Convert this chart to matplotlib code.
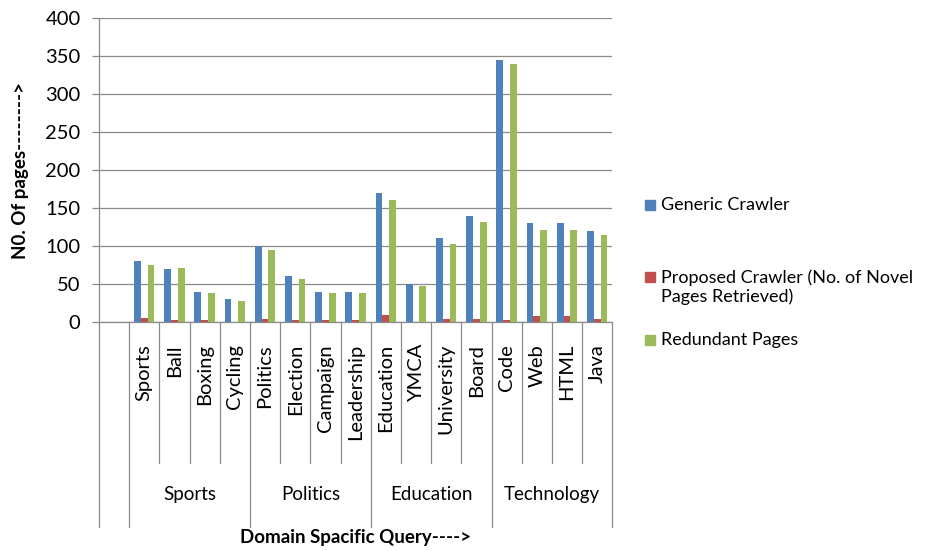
import matplotlib.pyplot as plt
from matplotlib.patches import Rectangle
import numpy as np

plt.rcParams['font.family'] = ['Lato', 'DejaVu Sans']

queries = ['Sports', 'Ball', 'Boxing', 'Cycling',
           'Politics', 'Election', 'Campaign', 'Leadership',
           'Education', 'YMCA', 'University', 'Board',
           'Code', 'Web', 'HTML', 'Java']
domains = ['Sports', 'Politics', 'Education', 'Technology']
generic = [80, 70, 40, 30, 100, 60, 40, 40, 170, 50, 110, 140, 345, 130, 130, 120]
proposed = [5, 2, 2, 0, 4, 2, 2, 2, 9, 0, 4, 4, 3, 8, 8, 4]
redundant = [75, 71, 38, 28, 95, 56, 38, 38, 161, 47, 103, 131, 340, 121, 121, 114]
series_names = ['Generic Crawler',
                'Proposed Crawler (No. of Novel\nPages Retrieved)',
                'Redundant Pages']
colors = ['#4F81BD', '#C0504D', '#9BBB59']
grid = '#8a8a8a'

fig = plt.figure(figsize=(9.41, 5.51), dpi=100)
ax = fig.add_axes([0.1052, 0.4156, 0.5455, 0.5517])

# slot 0 is left empty, like the blank first row of the original sheet
x = np.arange(1, len(queries) + 1)
w = 0.225
for k, vals in enumerate([generic, proposed, redundant]):
    ax.bar(x + (k - 1) * w, vals, w, color=colors[k], zorder=3)

ax.set_xlim(-0.5, len(queries) + 0.5)
ax.set_ylim(0, 400)
ax.set_yticks(np.arange(0, 401, 50))
ax.yaxis.grid(True, color=grid, lw=0.9)
ax.set_axisbelow(True)
ax.tick_params(axis='y', length=5.3, width=0.9, color=grid, pad=8, labelsize=14.5)
ax.set_xticks([])
for s in ['top', 'right']:
    ax.spines[s].set_visible(False)
for s in ['left', 'bottom']:
    ax.spines[s].set_color(grid)
    ax.spines[s].set_linewidth(0.9)

# two level category axis
trans = ax.get_xaxis_transform()
per = len(queries) // len(domains)
long_lines = np.concatenate([[-0.5], np.arange(0, len(queries) + 1, per) + 0.5])
short_lines = [e for e in np.arange(1.5, len(queries)) if e not in long_lines]
for xv in long_lines:
    ax.plot([xv, xv], [0, -0.674], transform=trans, color=grid, lw=0.9, clip_on=False)
for xv in short_lines:
    ax.plot([xv, xv], [0, -0.464], transform=trans, color=grid, lw=0.9, clip_on=False)

for xi, q in zip(x, queries):
    ax.text(xi, -0.072, q, rotation=90, ha='center', va='top',
            transform=trans, fontsize=14.5)
for i, d in enumerate(domains):
    ax.text(i * per + (per + 1) / 2, -0.566, d, ha='center', va='center',
            transform=trans, fontsize=13.5)

ax.text(0.5, -0.71, 'Domain Spacific Query---->', ha='center', va='center',
        transform=ax.transAxes, fontsize=13.5, weight='bold')
ax.text(-0.152, 0.5, 'N0. Of pages-------->', rotation=90, ha='center',
        va='center', transform=ax.transAxes, fontsize=13.5, weight='bold')

# legend, laid out the way the spreadsheet did it
marker_y = [0.628, 0.4978, 0.383]
text_y = [0.628, 0.4782, 0.383]
for name, c, my, ty in zip(series_names, colors, marker_y, text_y):
    fig.patches.append(Rectangle((0.6854, my - 0.009), 0.0106, 0.018,
                                 color=c, transform=fig.transFigure))
    fig.text(0.7024, ty, name, ha='left', va='center', fontsize=13,
             linespacing=1.2)

plt.savefig('out.png', dpi=100)
